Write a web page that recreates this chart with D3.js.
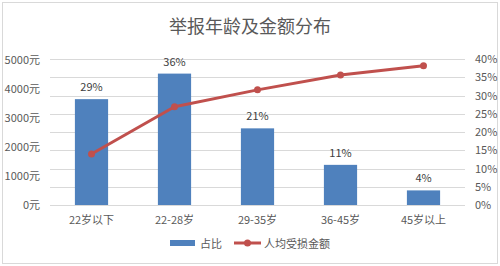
<!DOCTYPE html>
<html>
<head>
<meta charset="utf-8">
<script src="https://cdn.jsdelivr.net/npm/d3@7"></script>
<style>
  body { margin: 0; background: #fff; }
  svg text { font-family: "Noto Sans CJK SC", "Liberation Sans", sans-serif; }
</style>
</head>
<body>
<div id="chart"></div>
<script>
// data
const categories = ["22岁以下", "22-28岁", "29-35岁", "36-45岁", "45岁以上"];
const shares = [0.29, 0.36, 0.21, 0.11, 0.04];          // 占比 (right axis)
const amounts = [1760, 3390, 3970, 4480, 4800];          // 人均受损金额 (left axis)
const leftTicks = [0, 1000, 2000, 3000, 4000, 5000];
const rightTicks = [0, 0.05, 0.1, 0.15, 0.2, 0.25, 0.3, 0.35, 0.4];

const width = 500, height = 266;
const margin = { top: 59, right: 35, bottom: 61, left: 50 };
const grey = "#595959";

const svg = d3.select("#chart").append("svg")
    .attr("width", width)
    .attr("height", height);

// outer frame
svg.append("rect")
    .attr("x", 2.5).attr("y", 2.5)
    .attr("width", width - 5).attr("height", height - 5)
    .attr("fill", "#fff")
    .attr("stroke", "#d9d9d9");

svg.append("text")
    .attr("x", width / 2).attr("y", 25)
    .attr("text-anchor", "middle")
    .attr("dominant-baseline", "central")
    .attr("font-size", 18)
    .attr("fill", grey)
    .text("举报年龄及金额分布");

const x = d3.scaleBand()
    .domain(categories)
    .range([margin.left, width - margin.right])
    .paddingInner(0.6)
    .paddingOuter(0.3);

const yRight = d3.scaleLinear().domain([0, 0.4]).range([height - margin.bottom, margin.top]);
const yLeft = d3.scaleLinear().domain([0, 5000]).range([height - margin.bottom, margin.top + 1]);

// gridlines follow the right axis
svg.append("g")
    .selectAll("line")
    .data(rightTicks)
    .join("line")
    .attr("x1", margin.left).attr("x2", width - margin.right)
    .attr("y1", d => Math.round(yRight(d)) + 0.5)
    .attr("y2", d => Math.round(yRight(d)) + 0.5)
    .attr("stroke", "#d9d9d9");

const leftAxis = svg.append("g")
    .attr("transform", `translate(${margin.left - 10},0)`)
    .call(d3.axisLeft(yLeft).tickValues(leftTicks).tickSize(0).tickFormat(d => d + "元"));
leftAxis.select(".domain").remove();

const rightAxis = svg.append("g")
    .attr("transform", `translate(${width - margin.right + 10},0)`)
    .call(d3.axisRight(yRight).tickValues(rightTicks).tickSize(0).tickFormat(d3.format(".0%")));
rightAxis.select(".domain").remove();

svg.selectAll(".tick text")
    .attr("font-size", 11)
    .attr("fill", grey)
    .attr("font-family", "'Noto Sans CJK SC', sans-serif");
leftAxis.selectAll(".tick text").attr("x", 0);
rightAxis.selectAll(".tick text").attr("x", 0);

const xAxis = svg.append("g")
    .attr("transform", `translate(0,${height - margin.bottom})`)
    .call(d3.axisBottom(x).tickSize(0).tickPadding(11));
xAxis.select(".domain").remove();
xAxis.selectAll(".tick text")
    .attr("font-size", 11)
    .attr("fill", grey)
    .attr("font-family", "'Noto Sans CJK SC', sans-serif");

// bars
svg.append("g")
    .selectAll("rect")
    .data(shares)
    .join("rect")
    .attr("x", (d, i) => x(categories[i]))
    .attr("y", d => yRight(d))
    .attr("width", x.bandwidth())
    .attr("height", d => yRight(0) - yRight(d))
    .attr("fill", "#4f81bd");

svg.append("g")
    .selectAll("text")
    .data(shares)
    .join("text")
    .attr("x", (d, i) => x(categories[i]) + x.bandwidth() / 2)
    .attr("y", d => yRight(d) - 13)
    .attr("text-anchor", "middle")
    .attr("dominant-baseline", "central")
    .attr("font-size", 11)
    .attr("fill", "#404040")
    .text(d3.format(".0%"));

// line
const line = d3.line()
    .x((d, i) => x(categories[i]) + x.bandwidth() / 2)
    .y(d => yLeft(d));

svg.append("path")
    .datum(amounts)
    .attr("d", line)
    .attr("fill", "none")
    .attr("stroke", "#c0504d")
    .attr("stroke-width", 3)
    .attr("stroke-linejoin", "round");

svg.append("g")
    .selectAll("circle")
    .data(amounts)
    .join("circle")
    .attr("cx", (d, i) => x(categories[i]) + x.bandwidth() / 2)
    .attr("cy", d => yLeft(d))
    .attr("r", 3.5)
    .attr("fill", "#c0504d");

// legend
const legend = svg.append("g").attr("transform", "translate(0,243)");
legend.append("rect")
    .attr("x", 170).attr("y", -3)
    .attr("width", 25).attr("height", 6)
    .attr("fill", "#4f81bd");
legend.append("text")
    .attr("x", 200).attr("y", 0)
    .attr("dominant-baseline", "central")
    .attr("font-size", 11).attr("fill", grey)
    .text("占比");
legend.append("line")
    .attr("x1", 234).attr("x2", 261)
    .attr("y1", 0).attr("y2", 0)
    .attr("stroke", "#c0504d").attr("stroke-width", 3);
legend.append("circle")
    .attr("cx", 247.5).attr("cy", 0).attr("r", 3.5)
    .attr("fill", "#c0504d");
legend.append("text")
    .attr("x", 264).attr("y", 0)
    .attr("dominant-baseline", "central")
    .attr("font-size", 11).attr("fill", grey)
    .text("人均受损金额");
</script>
</body>
</html>
